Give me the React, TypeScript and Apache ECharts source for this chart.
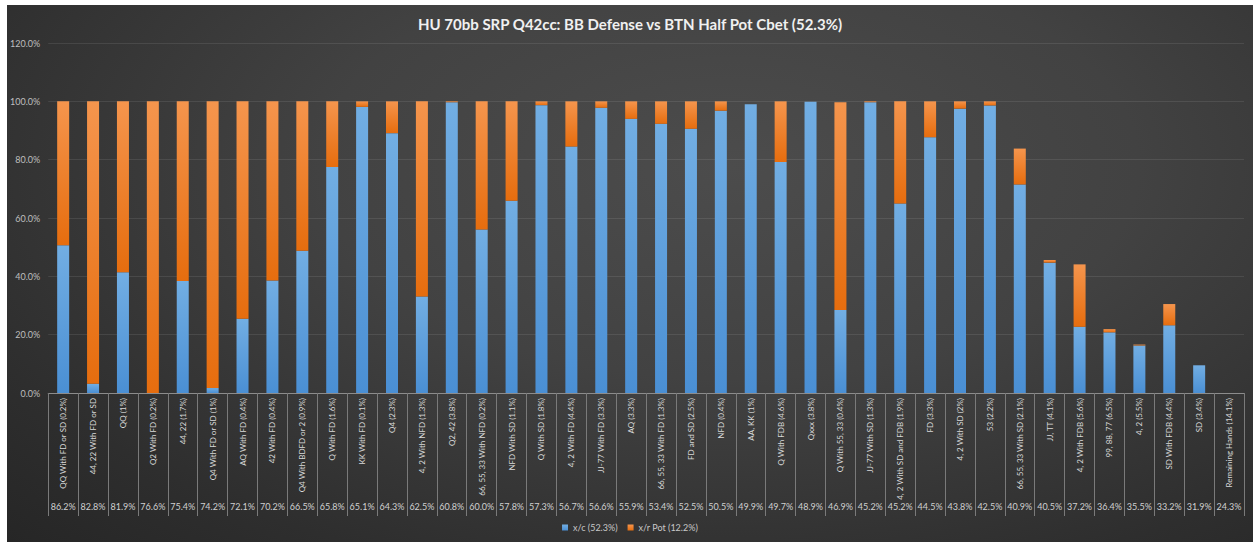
import React, { useEffect, useRef } from "react";
import * as echarts from "echarts";

const categories = [
  "QQ With FD or SD (0.2%)", "44, 22 With FD or SD", "QQ (1%)", "Q2 With FD (0.2%)", "44, 22 (1.7%)",
  "Q4 With FD or SD (1%)", "AQ With FD (0.4%)", "42 With FD (0.4%)", "Q4 With BDFD or 2 (0.9%)", "Q With FD (1.6%)",
  "KK With FD (0.1%)", "Q4 (2.3%)", "4, 2 With NFD (1.3%)", "Q2, 42 (3.8%)", "66, 55, 33 With NFD (0.2%)",
  "NFD With SD (1.1%)", "Q With SD (1.8%)", "4, 2 With FD (4.4%)", "JJ-77 With FD (3.3%)", "AQ (3.3%)",
  "66, 55, 33 With FD (1.3%)", "FD and SD (2.5%)", "NFD (0.4%)", "AA, KK (1%)", "Q With FDB (4.6%)",
  "Qxxx (3.8%)", "Q With 55, 33 (0.4%)", "JJ-77 With SD (1.3%)", "4, 2 With SD and FDB (1.9%)", "FD (3.3%)",
  "4, 2 With SD (2%)", "53 (2.2%)", "66, 55, 33 With SD (2.1%)", "JJ, TT (4.1%)", "4, 2 With FDB (5.6%)",
  "99, 88, 77 (6.5%)", "4, 2 (5.5%)", "SD With FDB (4.4%)", "SD (3.4%)", "Remaining Hands (14.1%)",
];

const equityLabels = [
  "86.2%", "82.8%", "81.9%", "76.6%", "75.4%", "74.2%", "72.1%", "70.2%", "66.5%", "65.8%",
  "65.1%", "64.3%", "62.5%", "60.8%", "60.0%", "57.8%", "57.3%", "56.7%", "56.6%", "55.9%",
  "53.4%", "52.5%", "50.5%", "49.9%", "49.7%", "48.9%", "46.9%", "45.2%", "45.2%", "44.5%",
  "43.8%", "42.5%", "40.9%", "40.5%", "37.2%", "36.4%", "35.5%", "33.2%", "31.9%", "24.3%",
];

const checkCall = [
  50.7, 3.2, 41.4, 0, 38.4, 1.7, 25.5, 38.6, 48.8, 77.5,
  98.1, 89.1, 33.1, 99.7, 56.1, 65.9, 98.7, 84.5, 97.8, 94.0,
  92.3, 90.6, 96.8, 99.0, 79.2, 99.9, 28.5, 99.7, 65.0, 87.7,
  97.5, 98.6, 71.5, 44.7, 22.7, 20.8, 16.3, 23.2, 9.5, 0,
];

const raisePot = [
  49.3, 96.8, 58.6, 100, 61.6, 98.3, 74.5, 61.4, 51.2, 22.5,
  1.9, 10.9, 66.9, 0.3, 43.9, 34.1, 1.3, 15.5, 2.2, 6.0,
  7.7, 9.4, 3.2, 0, 20.8, 0, 71.2, 0.3, 35.0, 12.3,
  2.5, 1.4, 12.3, 0.9, 21.4, 1.1, 0.3, 7.3, 0, 0,
];

const yTicks = { min: 0, max: 120, interval: 20 };

const seriesNames = ["x/c (52.3%)", "x/r Pot (12.2%)"];
const titleText = "HU 70bb SRP Q42cc: BB Defense vs BTN Half Pot Cbet (52.3%)";

export default function App() {
  const ref = useRef<HTMLDivElement>(null);

  useEffect(() => {
    if (!ref.current) return;
    const chart = echarts.init(ref.current, undefined, { renderer: "svg" });
    const font = "Lato, 'Open Sans', sans-serif";
    const blue = new echarts.graphic.LinearGradient(0, 0, 0, 1, [
      { offset: 0, color: "#72aee3" },
      { offset: 1, color: "#4a8fd4" },
    ]);
    const orange = new echarts.graphic.LinearGradient(0, 0, 0, 1, [
      { offset: 0, color: "#f5954d" },
      { offset: 1, color: "#e66d0e" },
    ]);
    chart.setOption({
      animation: false,
      backgroundColor: "transparent",
      title: {
        text: titleText,
        left: "center",
        top: 6,
        textStyle: {
          color: "#f0f0f0",
          fontSize: 15,
          fontWeight: "bold",
          fontFamily: font,
        },
      },
      legend: {
        bottom: 5,
        left: "center",
        icon: "rect",
        itemWidth: 6,
        itemHeight: 6,
        itemGap: 10,
        textStyle: { color: "#c8c8c8", fontSize: 9, fontFamily: font },
        data: seriesNames,
      },
      grid: { left: 40, right: 9, top: 38, bottom: 149, containLabel: false },
      xAxis: [
        {
          type: "category",
          data: categories,
          position: "bottom",
          axisLine: { lineStyle: { color: "#8c8c8c", width: 1 } },
          axisTick: {
            show: true,
            interval: 0,
            length: 123,
            lineStyle: { color: "#7a7a7a", width: 1 },
          },
          axisLabel: {
            interval: 0,
            rotate: 90,
            margin: 5,
            fontSize: 8,
            color: "#d9d9d9",
            fontFamily: font,
          },
        },
        {
          type: "category",
          data: equityLabels,
          position: "bottom",
          axisLine: { show: false },
          axisTick: { show: false },
          axisLabel: {
            interval: 0,
            margin: 109,
            fontSize: 9,
            color: "#d0d0d0",
            fontFamily: font,
          },
        },
      ],
      yAxis: {
        type: "value",
        min: yTicks.min,
        max: yTicks.max,
        interval: yTicks.interval,
        axisLine: { show: false },
        axisTick: { show: false },
        splitLine: { lineStyle: { color: "rgba(255,255,255,0.09)", width: 1 } },
        axisLabel: {
          margin: 8,
          fontSize: 9,
          color: "#bfbfbf",
          fontFamily: font,
          formatter: (v: number) => `${v.toFixed(1)}%`,
        },
      },
      series: [
        {
          name: seriesNames[0],
          type: "bar",
          stack: "total",
          xAxisIndex: 0,
          barWidth: 12,
          data: checkCall,
          itemStyle: { color: blue },
        },
        {
          name: seriesNames[1],
          type: "bar",
          stack: "total",
          xAxisIndex: 0,
          barWidth: 12,
          data: raisePot,
          itemStyle: { color: orange },
        },
      ],
    });
    return () => chart.dispose();
  }, []);

  return (
    <div
      style={{
        position: "absolute",
        left: 7,
        top: 5,
        width: 1246,
        height: 537,
        background:
          "radial-gradient(ellipse at 58% 30%, #4c4c4c 0%, #424242 40%, #2e2e2e 80%, #262626 100%)",
      }}
    >
      <div ref={ref} style={{ width: 1246, height: 537 }} />
    </div>
  );
}
